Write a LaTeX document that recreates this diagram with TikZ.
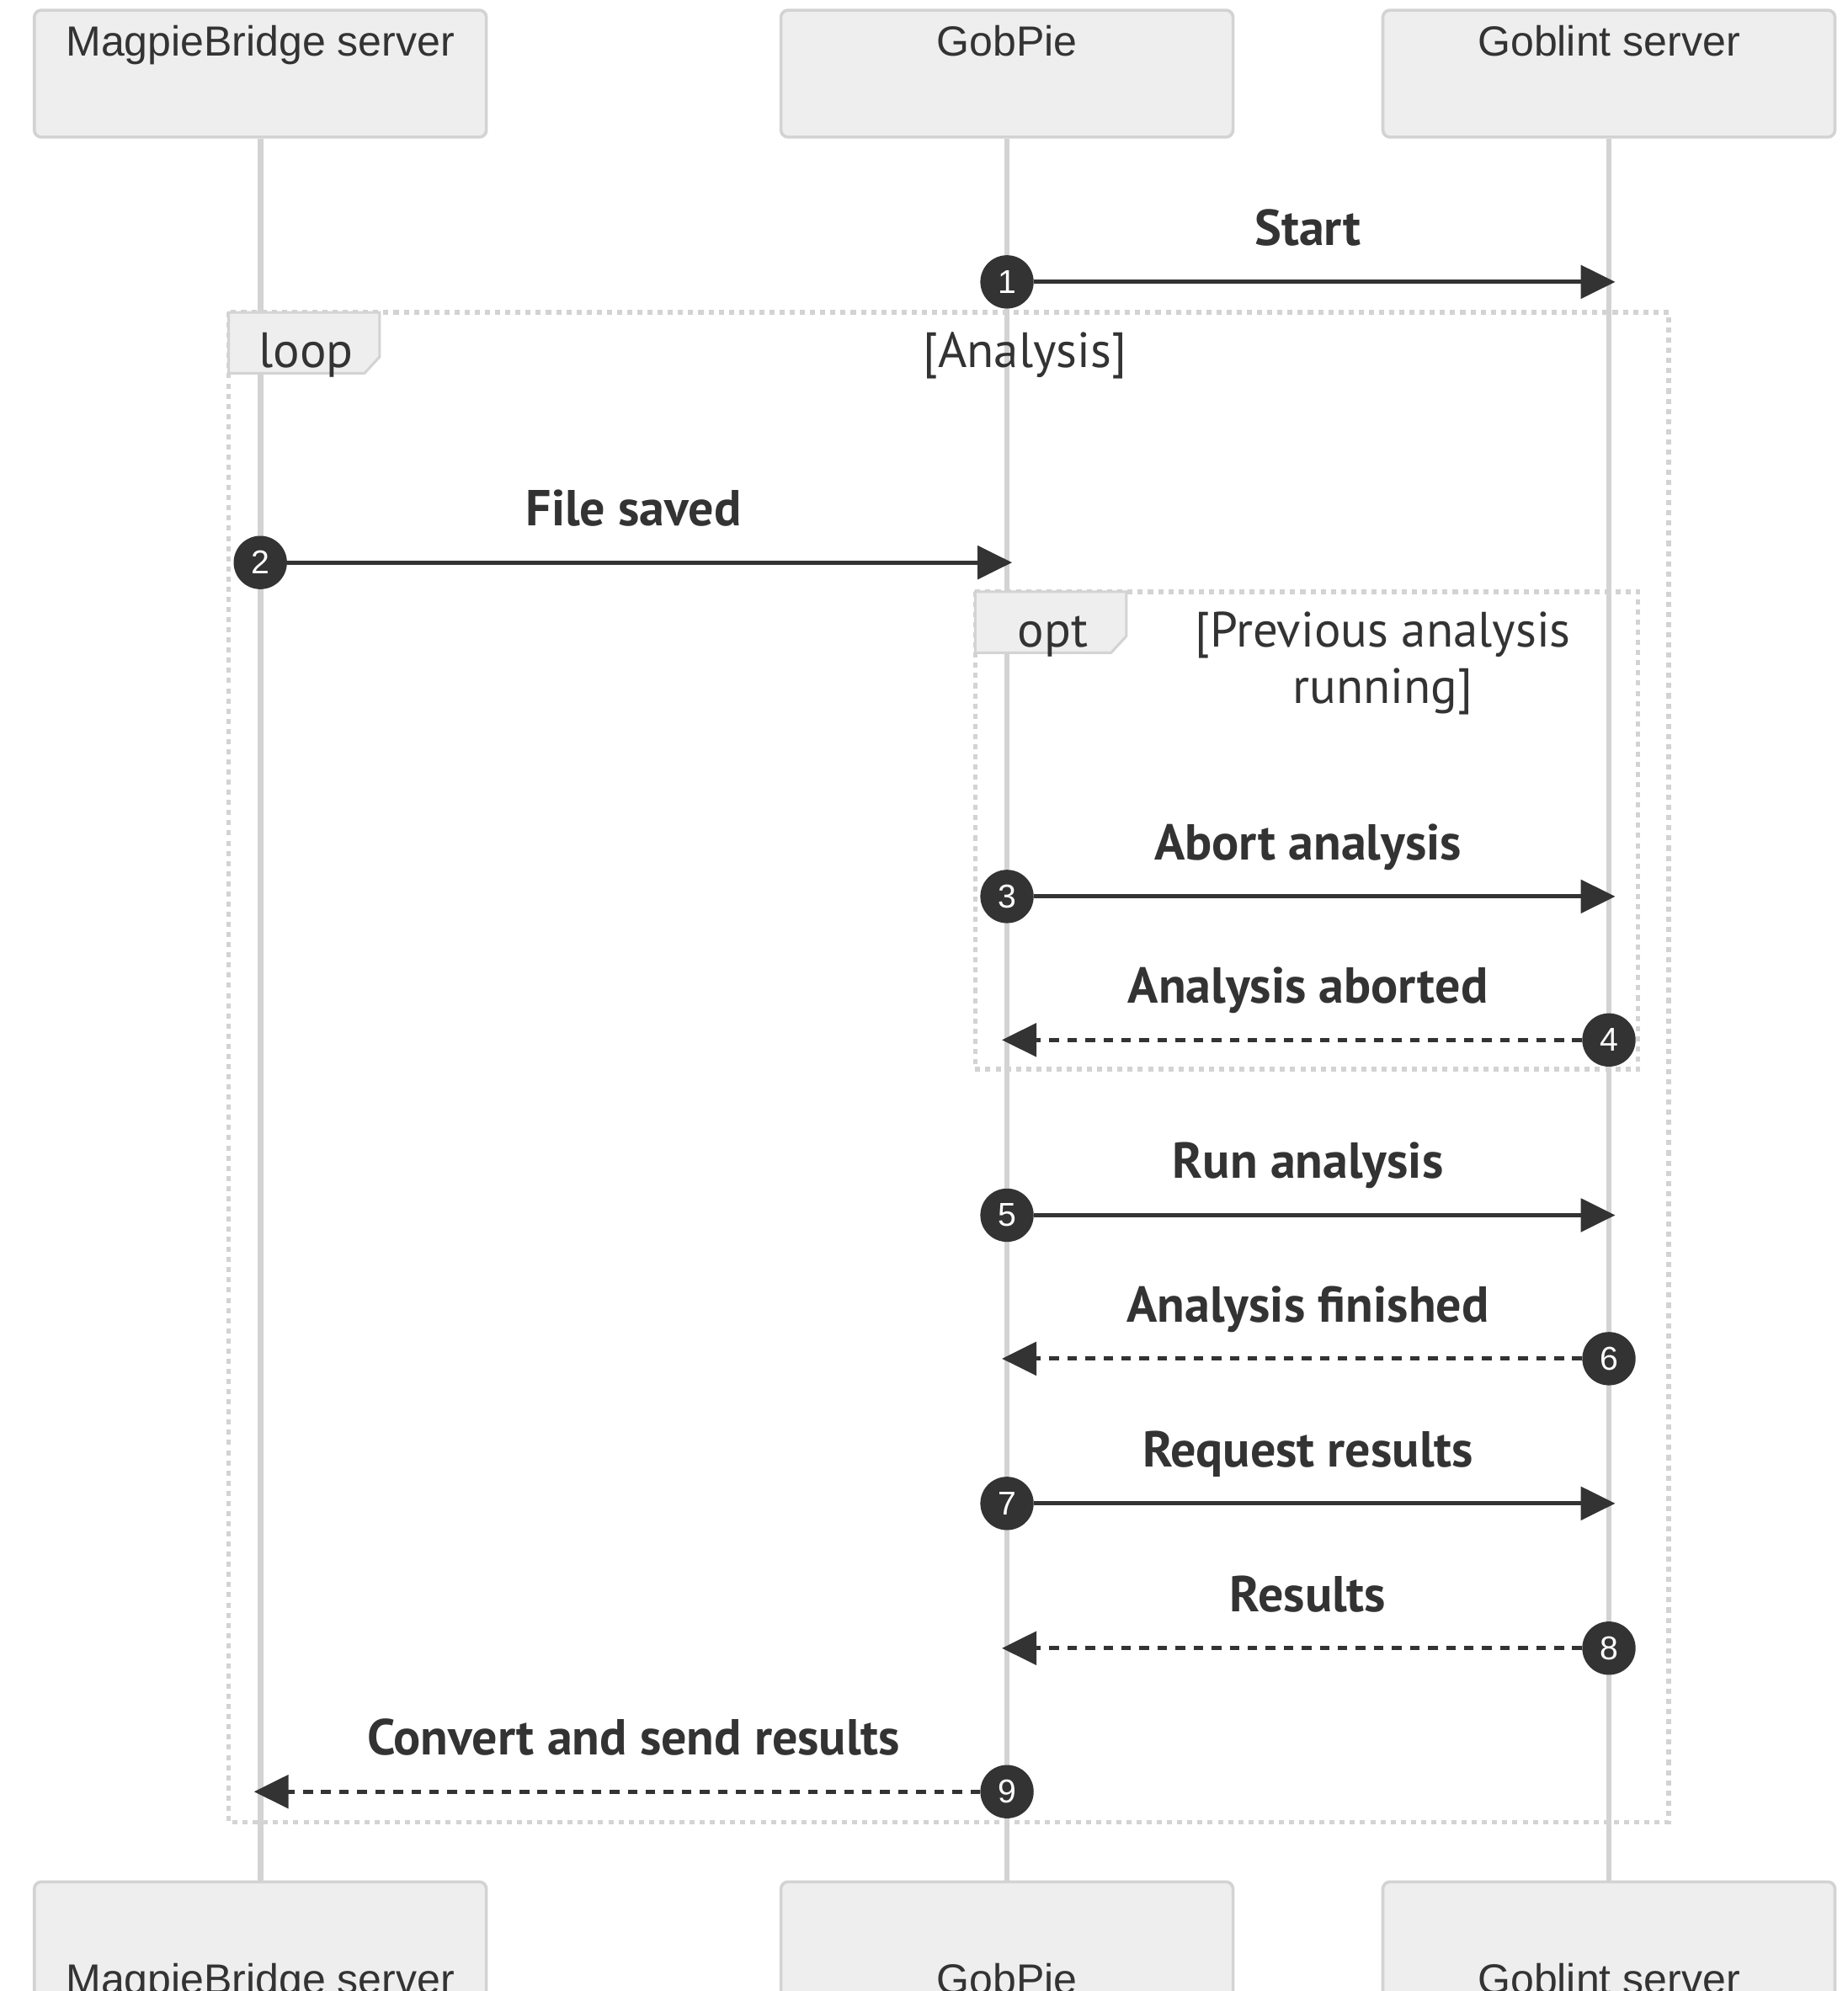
\documentclass[tikz,border=0pt]{standalone}
\usepackage{fontspec}
\setmainfont{Liberation Sans}
\newfontfamily\msgfont{PT Sans}
\usetikzlibrary{arrows.meta,positioning,calc}
\definecolor{ink}{HTML}{333333}
\definecolor{boxfill}{HTML}{EEEEEE}
\definecolor{boxline}{HTML}{D3D3D3}
\definecolor{lifegray}{HTML}{D3D3D3}

\begin{document}
\begin{tikzpicture}[x=0.25mm,y=-0.25mm,
actor/.style={draw=boxline,fill=boxfill,line width=0.6mm,rounded corners=1.4mm,minimum width=89mm,minimum height=25mm,inner sep=0pt},
actorlbl/.style={text=ink,font=\fontsize{23.6}{26}\selectfont,inner sep=0pt,anchor=base},
life/.style={draw=lifegray,line width=1.1mm},
frame/.style={draw=lifegray,line width=0.9mm,dash pattern=on 1mm off 1mm},
tagbox/.style={draw=lifegray,fill=boxfill,line width=0.5mm},
grplbl/.style={text=ink,font=\msgfont\fontsize{27.8}{31.2}\selectfont,inner sep=0pt,anchor=base},
num/.style={circle,fill=ink,text=white,inner sep=0pt,minimum size=10.5mm,font=\fontsize{18.5}{18.5}\selectfont},
lbl/.style={text=ink,font=\msgfont\bfseries\fontsize{28.3}{30}\selectfont,inner sep=0pt,anchor=base},
msg/.style={draw=ink,line width=0.85mm,-{Triangle[length=6.8mm,width=6.5mm]}},
reply/.style={msg,dash pattern=on 1.9mm off 1.65mm}]

\path[use as bounding box] (0,0) rectangle (1455,1568);
\clip (0,0) rectangle (1455,1568);

% participants
\node[actor] (mtop) at (205,58) {};
\node[actor] (gtop) at (793,58) {};
\node[actor] (btop) at (1267,58) {};
\node[actor] (mbot) at (205,1532) {};
\node[actor] (gbot) at (793,1532) {};
\node[actor] (bbot) at (1267,1532) {};
\node[actorlbl] (mtopt) at (205,44) {MagpieBridge server};
\node[actorlbl] (gtopt) at (793,44) {GobPie};
\node[actorlbl] (btopt) at (1267,44) {Goblint server};
\node[actorlbl] (mbott) at (205,1570) {MagpieBridge server};
\node[actorlbl] (gbott) at (793,1570) {GobPie};
\node[actorlbl] (bbott) at (1267,1570) {Goblint server};

\draw[life] (mtop) -- (mbot);
\draw[life] (gtop) -- (gbot);
\draw[life] (btop) -- (bbot);

% loop and opt frames
\draw[frame] (180,246) rectangle (1314,1435);
\draw[tagbox] (180,246) -- (299,246) -- (299,281) -- (287,294) -- (180,294) -- cycle;
\node[grplbl] (loopt) at (241,289.5) {loop};
\node[grplbl] (loopc) at (807,289.5) {[Analysis]};
\draw[frame] (768,466) rectangle (1290,842);
\draw[tagbox] (768,466) -- (887,466) -- (887,501) -- (875,514) -- (768,514) -- cycle;
\node[grplbl] (optt) at (829,509.5) {opt};
\node[grplbl,align=center] (optc) at (1089,553.7) {[Previous analysis\\running]};

% messages
\node[num] (n1) at (793,222) {1};
\node[num] (n2) at (205,443) {2};
\node[num] (n3) at (793,706) {3};
\node[num] (n4) at (1267,819) {4};
\node[num] (n5) at (793,957) {5};
\node[num] (n6) at (1267,1070) {6};
\node[num] (n7) at (793,1184) {7};
\node[num] (n8) at (1267,1298) {8};
\node[num] (n9) at (793,1411) {9};
\coordinate (t1) at (1272,222);
\coordinate (t2) at (797,443);
\coordinate (t3) at (1272,706);
\coordinate (t4) at (789,819);
\coordinate (t5) at (1272,957);
\coordinate (t6) at (789,1070);
\coordinate (t7) at (1272,1184);
\coordinate (t8) at (789,1298);
\coordinate (t9) at (200,1411);

\draw[msg] (n1) -- (t1);
\draw[msg] (n2) -- (t2);
\draw[msg] (n3) -- (t3);
\draw[reply] (n4) -- (t4);
\draw[msg] (n5) -- (t5);
\draw[reply] (n6) -- (t6);
\draw[msg] (n7) -- (t7);
\draw[reply] (n8) -- (t8);
\draw[reply] (n9) -- (t9);

\node[lbl] (l1) at (1030,193) {Start};
\node[lbl] (l2) at (499,414) {File saved};
\node[lbl] (l3) at (1030,677) {Abort analysis};
\node[lbl] (l4) at (1030,790) {Analysis aborted};
\node[lbl] (l5) at (1030,928) {Run analysis};
\node[lbl] (l6) at (1030,1041) {Analysis finished};
\node[lbl] (l7) at (1030,1155) {Request results};
\node[lbl] (l8) at (1030,1269) {Results};
\node[lbl] (l9) at (499,1382) {Convert and send results};
\end{tikzpicture}
\end{document}
